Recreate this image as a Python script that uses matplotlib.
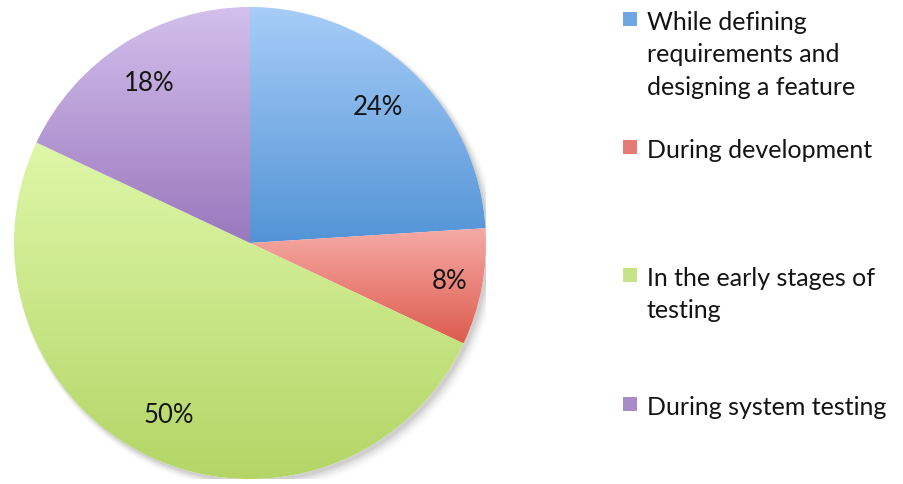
import numpy as np
import matplotlib.pyplot as plt
from matplotlib.colors import LinearSegmentedColormap
from matplotlib.patches import Rectangle, Circle

plt.rcParams['font.family'] = ['Lato', 'DejaVu Sans']

categories = [
    'While defining\nrequirements and\ndesigning a feature',
    'During development',
    'In the early stages of\ntesting',
    'During system testing',
]
shares = [24, 8, 50, 18]
pct_labels = ['24%', '8%', '50%', '18%']

# top / bottom colour of each slice gradient
grad_top = ['#a7cdf8', '#f6aba6', '#def7a8', '#d3c0ec']
grad_bottom = ['#5394d6', '#dd5c4e', '#b4d566', '#9a78bd']
swatch = ['#6fa6e4', '#e67b73', '#c6e38a', '#a98bc9']

label_dist = [0.79, 0.86, 0.81, 0.80]
legend_y = [12, 140, 268, 397]   # top of each swatch, pixels from top
line_h = 32.5

W, H = 904, 484
fig = plt.figure(figsize=(W / 100, H / 100), dpi=100)
fig.patch.set_facecolor('white')

cx, cy, r = 250, 243, 236
ax = fig.add_axes([(cx - r) / W, (H - cy - r) / H, 2 * r / W, 2 * r / H])
ax.set_aspect('equal')
ax.axis('off')

# soft drop shadow under the pie
for i, a in enumerate(np.linspace(0.05, 0.012, 6)):
    ax.add_patch(Circle((0.012 + i * 0.003, -0.014 - i * 0.003), 1.0 + i * 0.004,
                        facecolor='#000000', alpha=a, edgecolor='none', zorder=0))
ax.add_patch(Circle((0, 0), 1.0, facecolor='white', edgecolor='none', zorder=0.5))

wedges, _ = ax.pie(shares, startangle=90, counterclock=False, radius=1.0,
                   wedgeprops=dict(linewidth=0, edgecolor='none'))

for w, top, bot in zip(wedges, grad_top, grad_bottom):
    w.set_facecolor('none')
    th = np.radians(np.linspace(w.theta2, w.theta1, 200))
    ys = np.concatenate([[0], np.sin(th)])
    xs = np.concatenate([[0], np.cos(th)])
    cmap = LinearSegmentedColormap.from_list('g', [bot, top])
    grad = np.linspace(0, 1, 256).reshape(-1, 1)
    im = ax.imshow(grad, cmap=cmap, origin='lower', aspect='auto',
                   extent=[xs.min(), xs.max(), ys.min(), ys.max()], zorder=1)
    im.set_clip_path(w)

for w, lab, d in zip(wedges, pct_labels, label_dist):
    mid = np.radians((w.theta1 + w.theta2) / 2)
    ax.text(d * np.cos(mid), d * np.sin(mid), lab, ha='center', va='center',
            fontsize=18.5, color='#141414', zorder=3)

ax.set_xlim(-1, 1)
ax.set_ylim(-1, 1)

# legend drawn in figure pixels
lax = fig.add_axes([0, 0, 1, 1])
lax.set_xlim(0, W)
lax.set_ylim(H, 0)
lax.axis('off')
lax.patch.set_alpha(0)
for cat, col, y0 in zip(categories, swatch, legend_y):
    lax.add_patch(Rectangle((623, y0), 14, 14, facecolor=col, edgecolor='none'))
    for j, line in enumerate(cat.split('\n')):
        lax.text(647, y0 + 18 + j * line_h, line, ha='left', va='baseline',
                 fontsize=18, color='#141414')

fig.savefig('out.png', dpi=100, facecolor='white')
